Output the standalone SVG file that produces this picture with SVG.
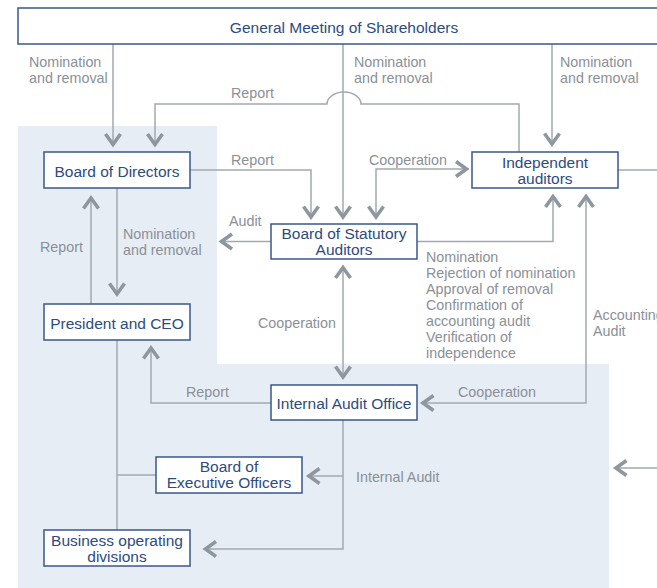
<svg xmlns="http://www.w3.org/2000/svg" width="657" height="588" viewBox="0 0 657 588">
<defs>
<style>
.box{fill:#ffffff;stroke:#3a578a;stroke-width:1.5}
.bt{font-family:"Liberation Sans",Arial,sans-serif;font-size:15.5px;fill:#2d4b7f;text-anchor:middle}
.lb{font-family:"Liberation Sans",Arial,sans-serif;font-size:14.3px;fill:#8b9097}
.ln{fill:none;stroke:#a3a9b0;stroke-width:1.5}
.ar{marker-end:url(#ch)}
.ar2{marker-start:url(#ch);marker-end:url(#ch)}
</style>
<marker id="ch" viewBox="-16 -10 20 20" refX="0" refY="0" markerWidth="20" markerHeight="20" markerUnits="userSpaceOnUse" orient="auto-start-reverse" overflow="visible">
<path d="M-12,-7.5 L-1.5,0 L-12,7.5" fill="none" stroke="#8e969e" stroke-width="3.6"/>
</marker>
</defs>
<rect width="657" height="588" fill="#ffffff"/>
<path d="M18,126 H217 V364 H609 V588 H18 Z" fill="#e6edf5"/>

<g id="connectors">
<path class="ln ar" d="M113,44 V146"/>
<path class="ln ar" d="M343,44 V218.5"/>
<path class="ln ar" d="M552,44 V145.5"/>
<path class="ln ar" d="M519,152 V104 H361 A17 12 0 0 0 327,104 H155 V146"/>
<path class="ln ar" d="M190,170 H311 V218.5"/>
<path class="ln ar2" d="M376,218.5 V169 H468"/>
<path class="ln" d="M618,170 H657"/>
<path class="ln ar" d="M271,241.5 H220"/>
<path class="ln ar" d="M417,241.5 H553 V195"/>
<path class="ln ar2" d="M586,195 V403 H421.5"/>
<path class="ln ar2" d="M343,266 V378.5"/>
<path class="ln ar" d="M117,188 V295.5"/>
<path class="ln ar" d="M91,304 V196.5"/>
<path class="ln ar" d="M271,403 H151 V346.5"/>
<path class="ln" d="M117,340 V530 M117,475 H156"/>
<path class="ln ar" d="M343,420 V549 H204"/>
<path class="ln ar" d="M343,476 H307.5"/>
<path class="ln ar" d="M657,468 H614.5"/>
</g>

<g id="labels">
<text class="lb" x="29" y="67">Nomination</text>
<text class="lb" x="29" y="83">and removal</text>
<text class="lb" x="354" y="67">Nomination</text>
<text class="lb" x="354" y="83">and removal</text>
<text class="lb" x="560" y="67">Nomination</text>
<text class="lb" x="560" y="83">and removal</text>
<text class="lb" x="231" y="97.5">Report</text>
<text class="lb" x="231" y="165">Report</text>
<text class="lb" x="369" y="165">Cooperation</text>
<text class="lb" x="229" y="226">Audit</text>
<text class="lb" x="40" y="252">Report</text>
<text class="lb" x="123" y="239">Nomination</text>
<text class="lb" x="123" y="255">and removal</text>
<text class="lb" x="426" y="262">Nomination</text>
<text class="lb" x="426" y="278">Rejection of nomination</text>
<text class="lb" x="426" y="294">Approval of removal</text>
<text class="lb" x="426" y="310">Confirmation of</text>
<text class="lb" x="426" y="326">accounting audit</text>
<text class="lb" x="426" y="342">Verification of</text>
<text class="lb" x="426" y="358">independence</text>
<text class="lb" x="593" y="319.5">Accounting</text>
<text class="lb" x="593" y="335.5">Audit</text>
<text class="lb" x="258" y="328">Cooperation</text>
<text class="lb" x="186" y="397">Report</text>
<text class="lb" x="458" y="397">Cooperation</text>
<text class="lb" x="356" y="482">Internal Audit</text>
</g>

<g id="gms">
<rect class="box" x="18" y="8" width="660" height="36"/>
<text class="bt" x="344" y="32.5">General Meeting of Shareholders</text>
</g>
<g id="bod">
<rect class="box" x="44" y="152" width="146" height="36"/>
<text class="bt" x="117" y="177">Board of Directors</text>
</g>
<g id="ia">
<rect class="box" x="472" y="152" width="146" height="36"/>
<text class="bt" x="545" y="167.5">Independent</text>
<text class="bt" x="545" y="183.5">auditors</text>
</g>
<g id="bsa">
<rect class="box" x="271" y="224" width="146" height="35"/>
<text class="bt" x="344" y="238.5">Board of Statutory</text>
<text class="bt" x="344" y="254.5">Auditors</text>
</g>
<g id="ceo">
<rect class="box" x="44" y="304" width="146" height="36"/>
<text class="bt" x="117" y="328.5">President and CEO</text>
</g>
<g id="iao">
<rect class="box" x="271" y="385" width="146" height="35"/>
<text class="bt" x="344" y="408.5">Internal Audit Office</text>
</g>
<g id="beo">
<rect class="box" x="156" y="457" width="146" height="36"/>
<text class="bt" x="229" y="471.5">Board of</text>
<text class="bt" x="229" y="487.5">Executive Officers</text>
</g>
<g id="bdiv">
<rect class="box" x="44" y="530" width="146" height="36"/>
<text class="bt" x="117" y="546">Business operating</text>
<text class="bt" x="117" y="562">divisions</text>
</g>
</svg>
